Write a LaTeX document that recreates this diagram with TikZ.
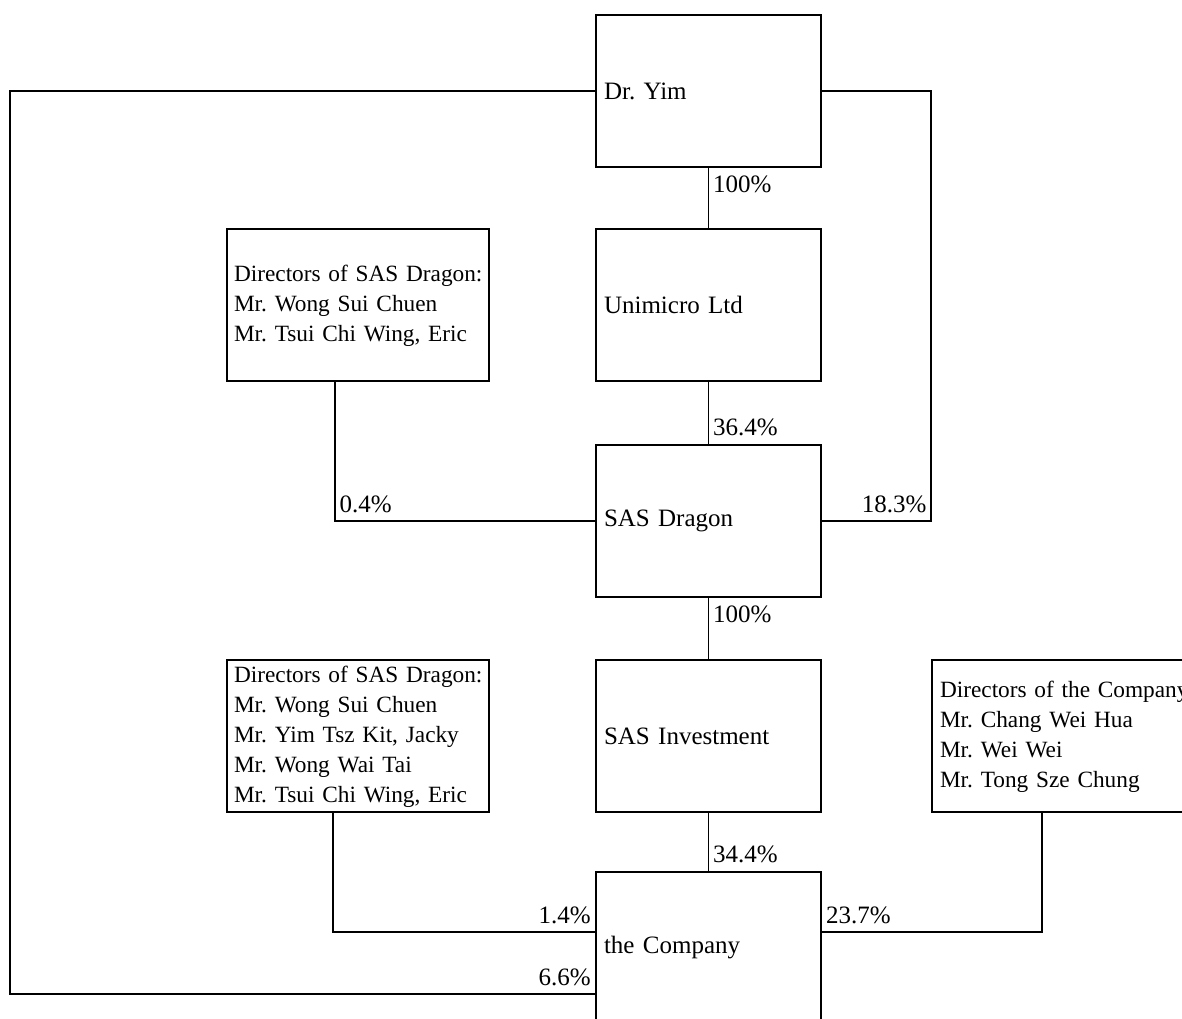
\documentclass[tikz,border=0pt]{standalone}
\usepackage{fontspec}
\setmainfont{Liberation Serif}
\usetikzlibrary{calc}

\newcommand\dirlist[1]{\begin{tabular}{@{}l@{}}#1\end{tabular}}

\tikzset{
	box/.style={draw, line width=1.2pt, rectangle, minimum height=152pt, inner ysep=0pt, inner xsep=8pt, text width=209pt, align=left},
	dirbox/.style={box, inner xsep=7pt, text width=248pt, font=\fontsize{23.3}{30}\selectfont},
	wire/.style={line width=1.2pt},
	pct/.style={inner xsep=4pt, inner ysep=8pt}
}

\begin{document}
\frenchspacing
\begin{tikzpicture}[x=1pt, y=-1pt, every node/.style={font=\fontsize{25}{30}\selectfont}]
		%%%%% START %%%%%
		\useasboundingbox (0,0) rectangle (1182,1018);
		\clip (0,0) rectangle (1182,1018);
		
		\node[box] (yim) at (708.5,91) {Dr. Yim};
		\node[box] (uni) at (708.5,305) {Unimicro Ltd};
		\node[box] (sas) at (708.5,521) {SAS Dragon};
		\node[box] (inv) at (708.5,736) {SAS Investment};
		\node[box] (co) at (708.5,948) {the Company};
		
		\node[dirbox] (dsas1) at (358,305) {\dirlist{Directors of SAS Dragon:\\Mr. Wong Sui Chuen\\Mr. Tsui Chi Wing, Eric}};
		\node[dirbox] (dsas2) at (358,736) {\dirlist{Directors of SAS Dragon:\\Mr. Wong Sui Chuen\\Mr. Yim Tsz Kit, Jacky\\Mr. Wong Wai Tai\\Mr. Tsui Chi Wing, Eric}};
		\node[dirbox, inner xsep=8pt, text width=256pt] (dco) at (1068,736) {\dirlist{Directors of the Company:\\Mr. Chang Wei Hua\\Mr. Wei Wei\\Mr. Tong Sze Chung}};
		
		\draw[wire] (yim.south) -- (uni.north) node[pct, at start, anchor=north west] {100\%};
		\draw[wire] (uni.south) -- (sas.north) node[pct, at end, anchor=south west] {36.4\%};
		\draw[wire] (sas.south) -- (inv.north) node[pct, at start, anchor=north west] {100\%};
		\draw[wire] (inv.south) -- (co.north) node[pct, at end, anchor=south west] {34.4\%};
		
		\coordinate (yimL) at (10,994);
		\draw[wire] (yim.west) -| (yimL) -- (co.west |- yimL) node[pct, at end, anchor=south east] {6.6\%};
		\coordinate (yimR) at (931,521);
		\draw[wire] (yim.east) -| (yimR) -- (sas.east) node[pct, at start, anchor=south east] {18.3\%};
		
		\coordinate (d1) at (335,521);
		\draw[wire] (dsas1.south -| d1) -- (d1) -- (sas.west) node[pct, at start, anchor=south west] {0.4\%};
		\coordinate (d2) at (333,932);
		\draw[wire] (dsas2.south -| d2) -- (d2) -- (co.west |- d2) node[pct, at end, anchor=south east] {1.4\%};
		\coordinate (d3) at (1042,932);
		\draw[wire] (dco.south -| d3) -- (d3) -- (co.east |- d3) node[pct, at end, anchor=south west] {23.7\%};
		%%%%% END %%%%%
\end{tikzpicture}
\end{document}
